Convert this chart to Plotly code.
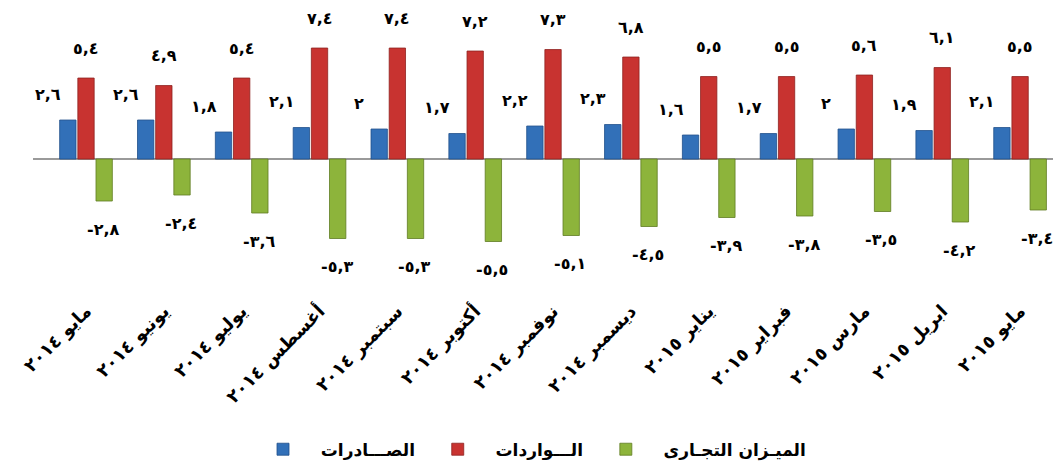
import plotly.graph_objects as go

months = ["مايو ٢٠١٤", "يونيو ٢٠١٤", "يوليو ٢٠١٤", "أغسطس ٢٠١٤", "سبتمبر ٢٠١٤",
          "أكتوبر ٢٠١٤", "نوفمبر ٢٠١٤", "ديسمبر ٢٠١٤", "يناير ٢٠١٥", "فبراير ٢٠١٥",
          "مارس ٢٠١٥", "ابريل ٢٠١٥", "مايو ٢٠١٥"]
exports = [2.6, 2.6, 1.8, 2.1, 2.0, 1.7, 2.2, 2.3, 1.6, 1.7, 2.0, 1.9, 2.1]
imports = [5.4, 4.9, 5.4, 7.4, 7.4, 7.2, 7.3, 6.8, 5.5, 5.5, 5.6, 6.1, 5.5]
balance = [-2.8, -2.4, -3.6, -5.3, -5.3, -5.5, -5.1, -4.5, -3.9, -3.8, -3.5, -4.2, -3.4]

names = ["الصـــادرات", "الـــواردات", "الميـزان التجـارى"]
colors = ["#3270b8", "#c83330", "#8db43b"]
edges = ["#1f4f8a", "#8e2220", "#5f7c22"]

AR_DIGITS = str.maketrans("0123456789.", "٠١٢٣٤٥٦٧٨٩,")


def ar_num(v):
    return f"{v:g}".translate(AR_DIGITS)


fig = go.Figure()
for vals, name, col, edge in zip([exports, imports, balance], names, colors, edges):
    # no-break spaces widen the legend entries
    fig.add_trace(go.Bar(x=months, y=vals, name="\u00a0" * 3 + name + "\u00a0" * 3,
                         marker=dict(color=col, line=dict(color=edge, width=0.8))))

# data labels: (values, x shift, y shift)
label_specs = [(exports, -38, 26), (imports, 0, 30), (balance, 17, -28)]
for vals, dx, dy in label_specs:
    for m, v in zip(months, vals):
        fig.add_annotation(x=m, y=v, text=ar_num(v), showarrow=False,
                           xshift=dx, yshift=dy, xanchor="center", yanchor="middle",
                           font=dict(family="DejaVu Sans", size=16, color="black", weight="bold"))

fig.update_layout(
    width=1061, height=468,
    margin=dict(l=25, r=10, t=12, b=194, autoexpand=False),
    plot_bgcolor="white", paper_bgcolor="white",
    barmode="group", bargap=0.3, bargroupgap=0.1,
    showlegend=True,
    legend=dict(orientation="h", x=0.5, xanchor="center", y=-0.64, yanchor="middle",
                font=dict(family="DejaVu Sans", size=17, color="black", weight="bold")),
)
fig.update_xaxes(tickangle=-45, showline=False, showgrid=False, ticks="", automargin=False,
                 ticklabelstandoff=14,
                 tickfont=dict(family="DejaVu Sans", size=18, color="black", weight="bold"))
fig.update_yaxes(range=[-8.2, 9.27], showgrid=False, showticklabels=False, zeroline=True,
                 automargin=False, zerolinecolor="#9a9a9a", zerolinewidth=1.5)

fig.write_html("out.html")
